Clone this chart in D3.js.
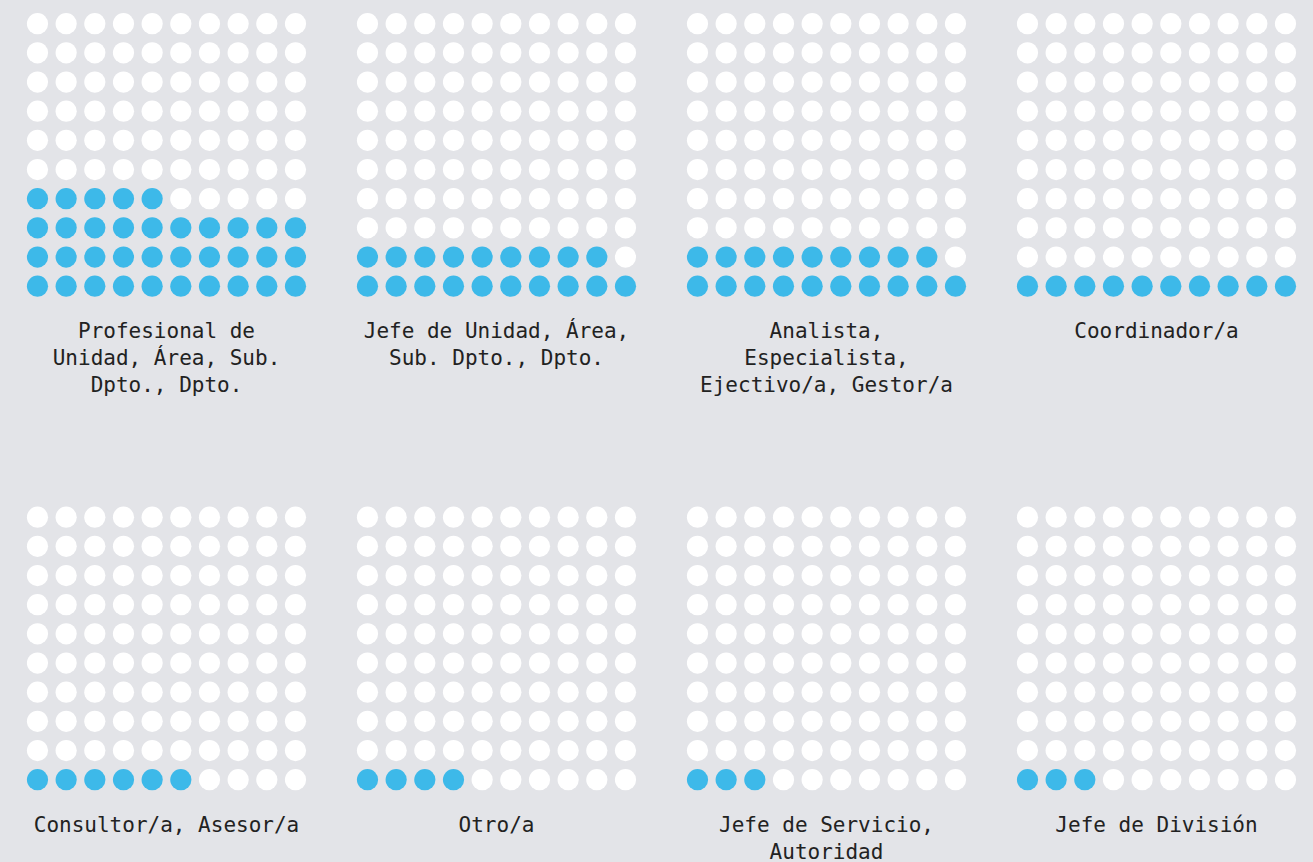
<!DOCTYPE html>
<html>
<head>
<meta charset="utf-8">
<script src="https://cdn.jsdelivr.net/npm/d3@7"></script>
<style>
  html, body { margin: 0; padding: 0; background: #e3e4e8; }
  svg { display: block; }
</style>
</head>
<body>
<div id="waffle"></div>
<script>
// cargos y porcentaje (de 100)
const categories = [
    "Profesional de Unidad, Área, Sub. Dpto., Dpto.",
    "Jefe de Unidad, Área, Sub. Dpto., Dpto.",
    "Analista, Especialista, Ejectivo/a, Gestor/a",
    "Coordinador/a",
    "Consultor/a, Asesor/a",
    "Otro/a",
    "Jefe de Servicio, Autoridad",
    "Jefe de División"
];
const values = [35, 19, 19, 10, 6, 4, 3, 3];

let WIDTH = 1313,
    HEIGHT = 862;

const COLS = 10, ROWS = 10;
const BLUE = "#3db9e9";
const EMPTY = "#ffffff";

let svg = d3.select("#waffle")
    .append("svg")
    .attr("width", WIDTH)
    .attr("height", HEIGHT);

// posicion de cada panel
let panelX = d3.scalePoint().domain([0, 1, 2, 3]).range([166.5, 1156.5]);
let panelY = d3.scalePoint().domain([0, 1]).range([0, 493.5]);

// posicion de cada punto dentro del panel
let dotX = d3.scaleLinear().domain([0, COLS - 1]).range([-129, 129]);
let dotY = d3.scaleLinear().domain([0, ROWS - 1]).range([23.7, 286.2]);

const data = categories.map((name, i) => ({ name: name, value: values[i], i: i }));

let panels = svg.selectAll("g.panel")
    .data(data)
    .enter()
    .append("g")
    .attr("class", "panel")
    .attr("transform", d => `translate(${panelX(d.i % 4)},${panelY(Math.floor(d.i / 4))})`);

panels.selectAll("circle")
    .data(d => d3.range(COLS * ROWS).map(k => ({ k: k, filled: k < d.value })))
    .enter()
    .append("circle")
    // se llena desde abajo a la izquierda
    .attr("cx", d => dotX(d.k % COLS))
    .attr("cy", d => dotY(ROWS - 1 - Math.floor(d.k / COLS)))
    .attr("r", 10.6)
    .style("fill", d => d.filled ? BLUE : EMPTY);

function wrap(text, maxChars) {
    let lines = [], line = "";
    text.split(" ").forEach(w => {
        let test = line ? line + " " + w : w;
        if (test.length > maxChars && line) {
            lines.push(line);
            line = w;
        } else {
            line = test;
        }
    });
    lines.push(line);
    return lines;
}

let labels = panels.append("text")
    .attr("text-anchor", "middle")
    .attr("y", 338.3)
    .style("font-family", "'DejaVu Sans Mono', 'Liberation Mono', monospace")
    .style("font-size", "21px")
    .style("fill", "#222");

labels.selectAll("tspan")
    .data(d => wrap(d.name, 21))
    .enter()
    .append("tspan")
    .attr("x", 0)
    .attr("dy", (d, i) => i === 0 ? 0 : 26.9)
    .text(d => d);
</script>
</body>
</html>
